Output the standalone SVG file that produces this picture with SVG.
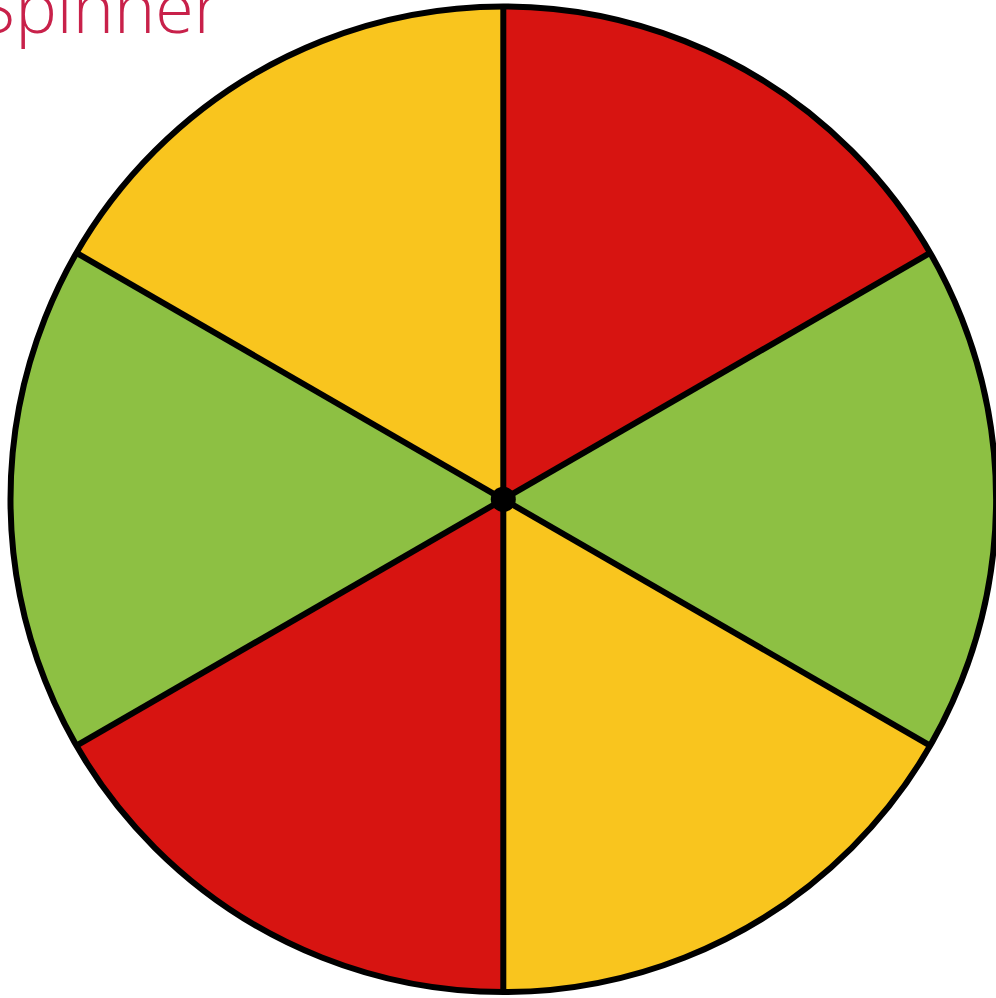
<svg xmlns="http://www.w3.org/2000/svg" width="996" height="998" viewBox="0 0 996 998">
  <style>
    .sector { stroke: none; }
    .red { fill: #D71411; }
    .green { fill: #8DC043; }
    .yellow { fill: #F9C51E; }
    .spoke { stroke: #000; stroke-width: 6; stroke-linecap: butt; }
    .rim { fill: none; stroke: #000; stroke-width: 6; }
    .title { font-family: "Open Sans", "Liberation Sans", sans-serif; font-weight: 300; font-size: 70px; fill: #C8214A; }
  </style>
  <rect width="996" height="998" fill="#FFFFFF"/>
  <text class="title" x="-23" y="33">Spinner</text>
  <g id="spinner">
    <g id="sector-top-right"><path class="sector red" d="M503.3,499.3 L503.3,6.5 A492.8,492.8 0 0 1 930.1,252.9 Z"/></g>
    <g id="sector-right"><path class="sector green" d="M503.3,499.3 L930.1,252.9 A492.8,492.8 0 0 1 930.1,745.7 Z"/></g>
    <g id="sector-bottom-right"><path class="sector yellow" d="M503.3,499.3 L930.1,745.7 A492.8,492.8 0 0 1 503.3,992.1 Z"/></g>
    <g id="sector-bottom-left"><path class="sector red" d="M503.3,499.3 L503.3,992.1 A492.8,492.8 0 0 1 76.5,745.7 Z"/></g>
    <g id="sector-left"><path class="sector green" d="M503.3,499.3 L76.5,745.7 A492.8,492.8 0 0 1 76.5,252.9 Z"/></g>
    <g id="sector-top-left"><path class="sector yellow" d="M503.3,499.3 L76.5,252.9 A492.8,492.8 0 0 1 503.3,6.5 Z"/></g>
  </g>
  <g id="connectors">
    <line class="spoke" x1="503.3" y1="6.5" x2="503.3" y2="992.1"/>
    <line class="spoke" x1="76.5" y1="252.9" x2="930.1" y2="745.7"/>
    <line class="spoke" x1="76.5" y1="745.7" x2="930.1" y2="252.9"/>
  </g>
  <g id="rim"><circle class="rim" cx="503.3" cy="499.3" r="492.8"/></g>
  <g id="pivot"><circle cx="503.3" cy="499.3" r="12.5" fill="#000"/></g>
</svg>
